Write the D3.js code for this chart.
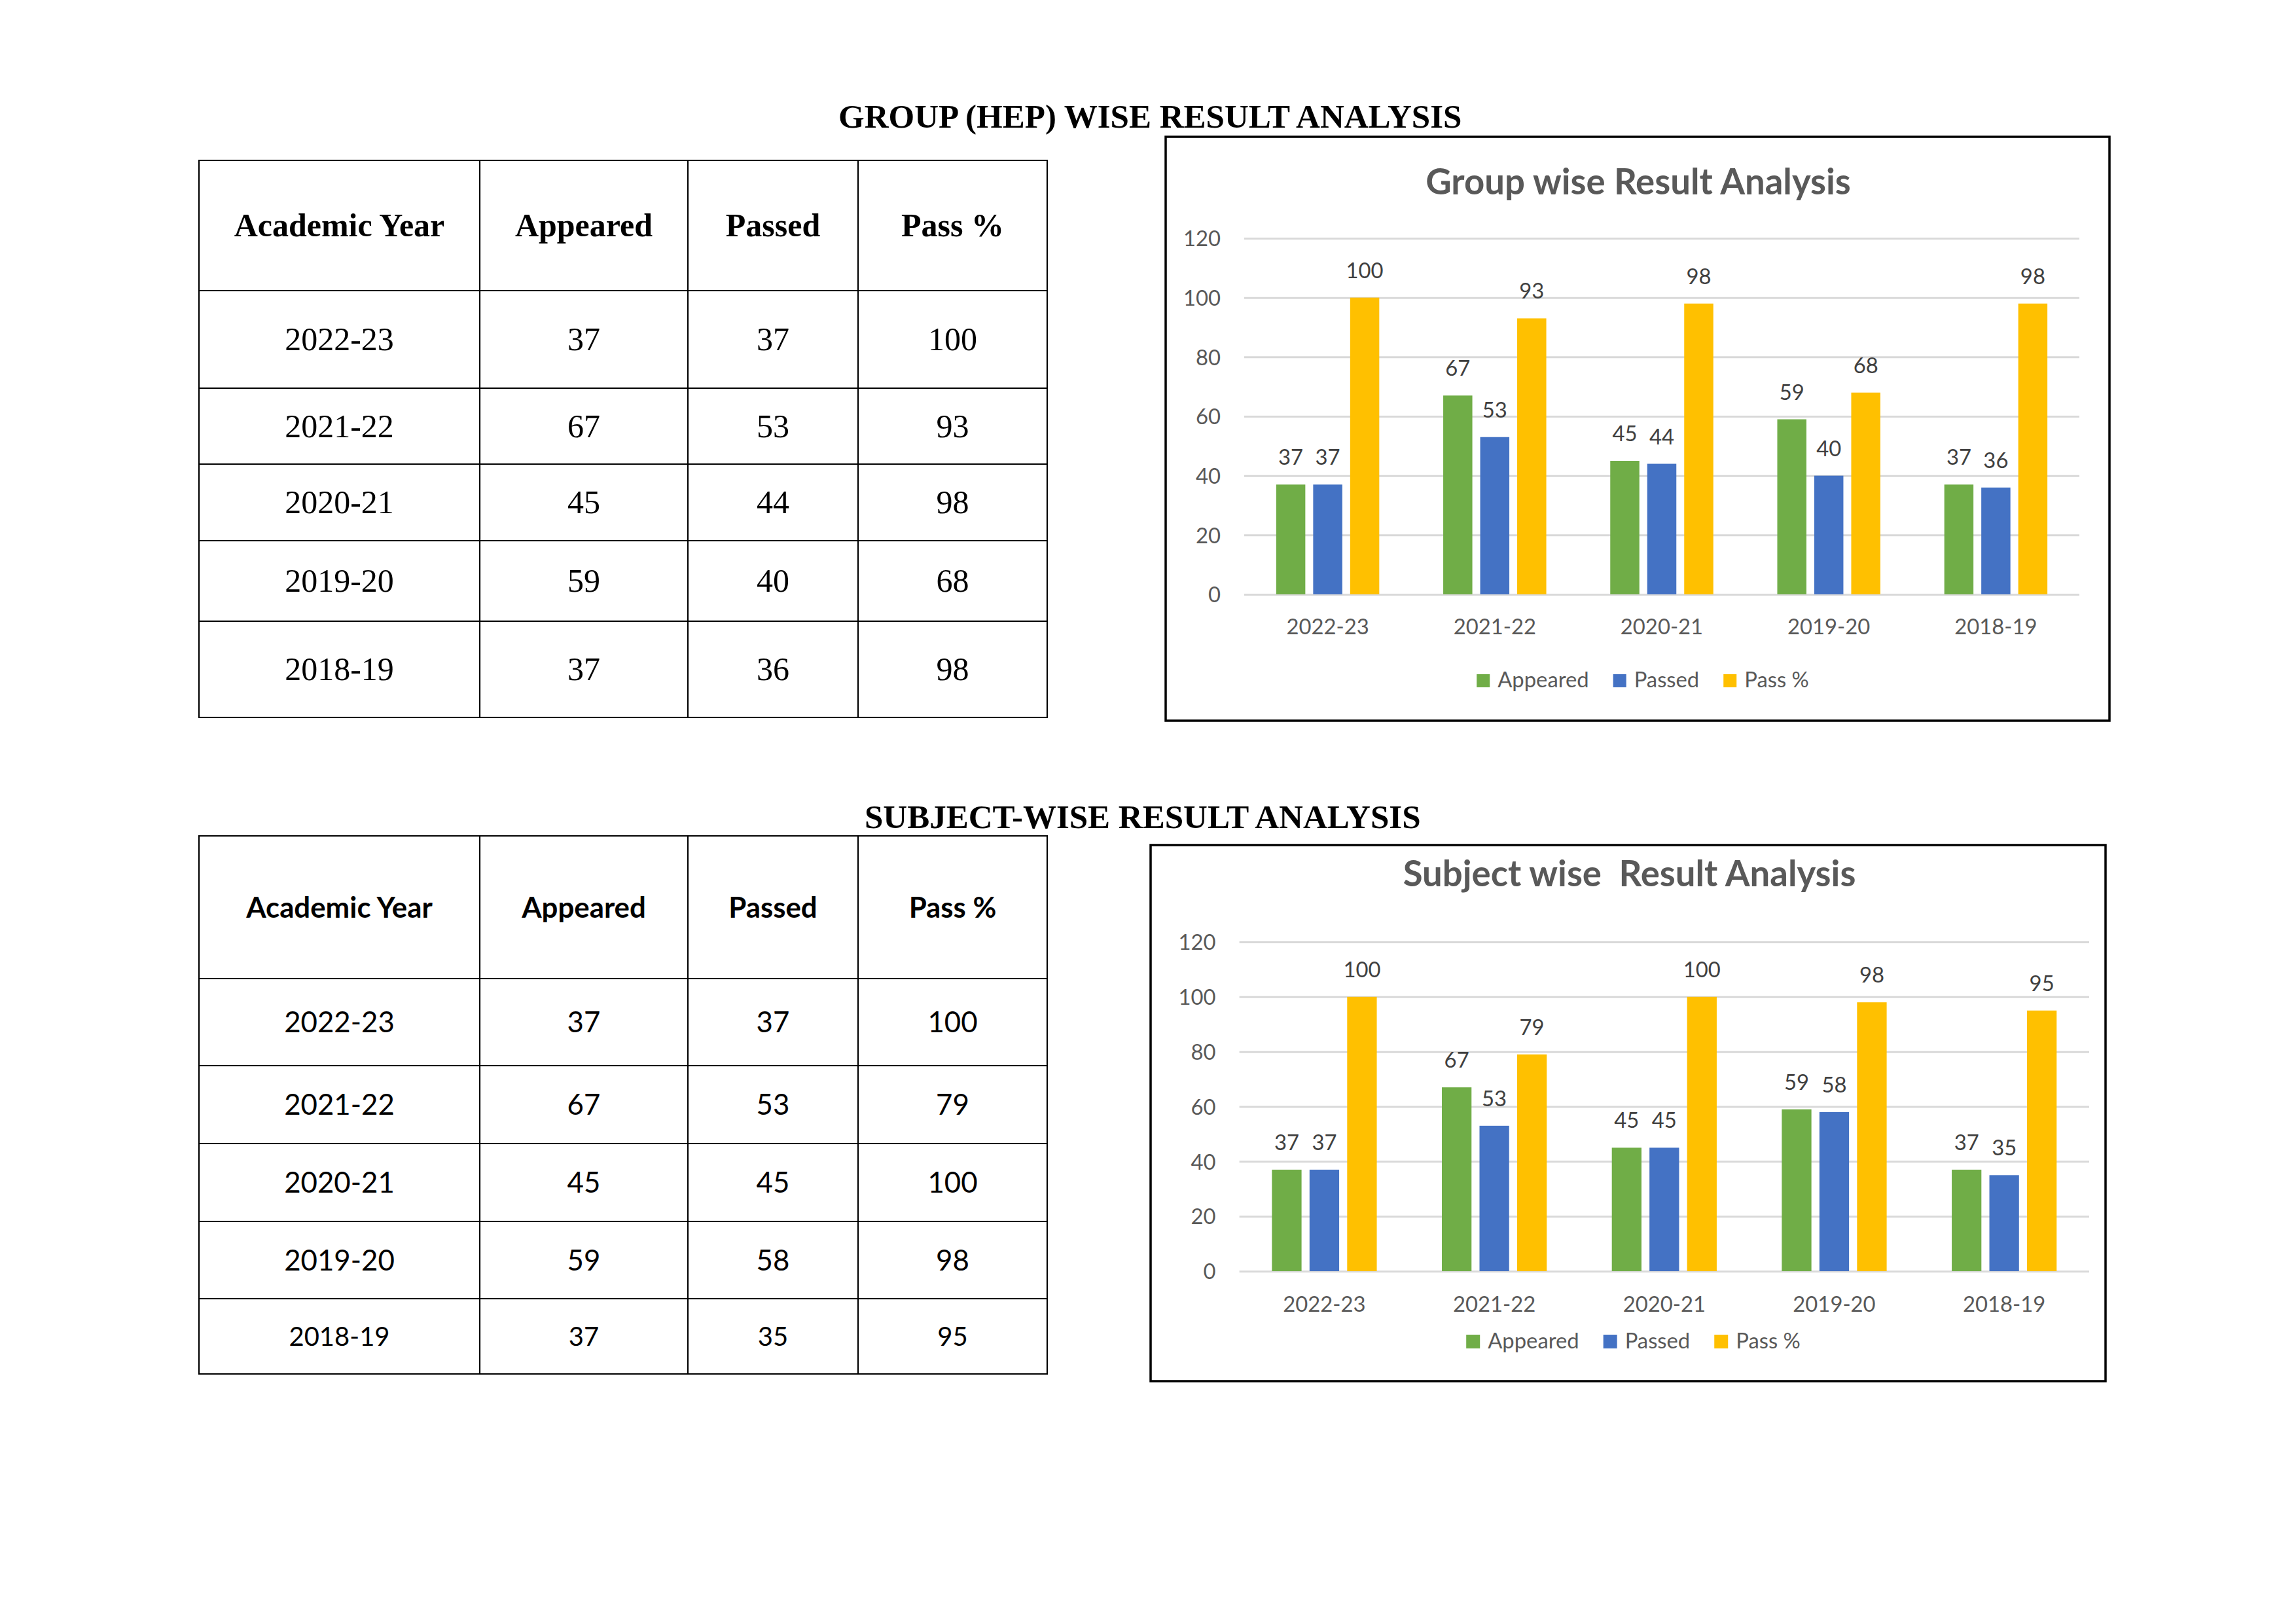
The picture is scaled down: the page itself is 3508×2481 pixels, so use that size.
<!DOCTYPE html>
<html><head><meta charset="utf-8">
<script src="https://cdn.jsdelivr.net/npm/d3@7"></script>
<style>body{margin:0;background:#fff}svg{display:block}</style>
</head><body>
<script>
// ---------- data ----------
const years = ["2022-23","2021-22","2020-21","2019-20","2018-19"];
const seriesNames = ["Appeared","Passed","Pass %"];
const seriesColors = ["#70AD47","#4472C4","#FFC000"];
const groupAppeared = [37,67,45,59,37];
const groupPassed   = [37,53,44,40,36];
const groupPassPct  = [100,93,98,68,98];
const subjectAppeared = [37,67,45,59,37];
const subjectPassed   = [37,53,45,58,35];
const subjectPassPct  = [100,79,100,98,95];
const yTicks = [0,20,40,60,80,100,120];
const tableHeaders = ["Academic Year","Appeared","Passed","Pass %"];
const sectionTitles = ["GROUP (HEP) WISE RESULT ANALYSIS","SUBJECT-WISE RESULT ANALYSIS"];
const chartTitles = ["Group wise Result Analysis","Subject wise  Result Analysis"];

// ---------- page ----------
const W = 3508, H = 2481;
const svg = d3.select("body").append("svg").attr("width", W).attr("height", H);
svg.append("rect").attr("width", W).attr("height", H).attr("fill", "#fff");

// section titles
svg.append("text").attr("x", 1281).attr("y", 195)
  .attr("font-family", "Liberation Serif").attr("font-weight", "bold").attr("font-size", 51)
  .attr("fill", "#000").text(sectionTitles[0]);
svg.append("text").attr("x", 1321).attr("y", 1265)
  .attr("font-family", "Liberation Serif").attr("font-weight", "bold").attr("font-size", 51)
  .attr("fill", "#000").text(sectionTitles[1]);

// ---------- tables ----------
function drawTable(o) {
  const g = svg.append("g");
  const xs = o.cols, ys = o.rows;
  const rowsData = years.map((yr, i) => [yr, o.a[i], o.p[i], o.pct[i]]);
  tableHeaders.forEach((h, c) => {
    const cy = (ys[0] + ys[1]) / 2;
    g.append("text").attr("x", (xs[c] + xs[c+1]) / 2).attr("y", cy + o.capHalf * o.headSize)
      .attr("text-anchor", "middle").attr("font-family", o.font).attr("font-weight", "bold")
      .attr("font-size", o.headSize).attr("fill", "#000").text(h);
  });
  rowsData.forEach((r, ri) => {
    const cy = (ys[ri+1] + ys[ri+2]) / 2;
    const fs = o.bodySizes[ri];
    r.forEach((v, c) => {
      g.append("text").attr("x", (xs[c] + xs[c+1]) / 2).attr("y", cy + o.capHalf * fs)
        .attr("text-anchor", "middle").attr("font-family", o.font)
        .attr("font-size", fs).attr("fill", "#000").text(v);
    });
  });
  ys.forEach(y => g.append("line").attr("x1", xs[0]).attr("x2", xs[xs.length-1]).attr("y1", y).attr("y2", y)
    .attr("stroke", "#000").attr("stroke-width", 2.2));
  xs.forEach(x => g.append("line").attr("x1", x).attr("x2", x).attr("y1", ys[0]-1.1).attr("y2", ys[ys.length-1]+1.1)
    .attr("stroke", "#000").attr("stroke-width", 2.2));
}

drawTable({
  cols: [304, 733, 1051, 1311, 1600],
  rows: [245, 444, 593, 709, 826, 949, 1096],
  font: "Liberation Serif", headSize: 50, bodySizes: [50,50,50,50,50], capHalf: 0.33,
  a: groupAppeared, p: groupPassed, pct: groupPassPct
});
drawTable({
  cols: [304, 733, 1051, 1311, 1600],
  rows: [1277, 1495, 1628, 1747, 1866, 1984, 2099],
  font: "Lato", headSize: 43.8, bodySizes: [43.8,43.8,43.8,43.8,40], capHalf: 0.36,
  a: subjectAppeared, p: subjectPassed, pct: subjectPassPct
});

// ---------- charts ----------
const FS = 32.8;
function drawChart(o) {
  const g = svg.append("g");
  const [bx0, by0, bx1, by1] = o.box;
  g.append("rect").attr("x", bx0).attr("y", by0).attr("width", bx1 - bx0).attr("height", by1 - by0)
    .attr("fill", "#fff").attr("stroke", "#000").attr("stroke-width", 3.5);
  const bcx = (bx0 + bx1) / 2;

  g.append("text").attr("x", bcx + o.titleDx).attr("y", o.titleY).attr("text-anchor", "middle")
    .attr("font-family", "Lato").attr("font-weight", "bold").attr("font-size", 54.5)
    .attr("fill", "#595959").style("white-space", "pre").text(o.title);

  const x = d3.scaleBand().domain(years).range([o.px0, o.px1]).padding(0);
  const x1 = d3.scaleBand().domain(seriesNames).range([0, x.bandwidth()])
    .paddingInner(0.2124).paddingOuter(0.865);
  const y = d3.scaleLinear().domain([0, 120]).range([o.py0, o.py1]);

  const ax = g.append("g").attr("transform", `translate(${o.px0},0)`)
    .call(d3.axisLeft(y).tickValues(yTicks).tickSize(-(o.px1 - o.px0)).tickPadding(36));
  ax.select(".domain").remove();
  ax.selectAll(".tick line").attr("stroke", "#D9D9D9").attr("stroke-width", 3);
  ax.selectAll(".tick text").attr("fill", "#595959").attr("font-family", "Lato")
    .attr("font-size", FS).attr("dy", "0.36em");

  const rows = years.map((yr, i) => ({ year: yr, vals: [o.a[i], o.p[i], o.pct[i]] }));
  const grp = g.selectAll("g.cat").data(rows).join("g").attr("class", "cat")
    .attr("transform", d => `translate(${x(d.year)},0)`);
  grp.selectAll("rect").data(d => d.vals.map((v, k) => ({ k, v })))
    .join("rect")
    .attr("x", d => x1(seriesNames[d.k])).attr("width", x1.bandwidth())
    .attr("y", d => y(d.v)).attr("height", d => y(0) - y(d.v))
    .attr("fill", d => seriesColors[d.k]);
  grp.selectAll("text").data(d => d.vals.map((v, k) => ({ k, v })))
    .join("text")
    .attr("x", d => x1(seriesNames[d.k]) + x1.bandwidth() / 2)
    .attr("y", d => y(d.v) - 30)
    .attr("text-anchor", "middle").attr("font-family", "Lato").attr("font-size", FS)
    .attr("fill", "#404040").text(d => d.v);

  g.selectAll("text.cat").data(years).join("text").attr("class", "cat")
    .attr("x", d => x(d) + x.bandwidth() / 2).attr("y", o.catY)
    .attr("text-anchor", "middle").attr("font-family", "Lato").attr("font-size", FS)
    .attr("fill", "#595959").text(d => d);

  // legend
  const lg = g.append("g");
  const items = seriesNames.map((n, k) => {
    const t = lg.append("text").attr("y", o.legendY).attr("font-family", "Lato")
      .attr("font-size", FS).attr("fill", "#595959").text(n);
    return { t, w: t.node().getComputedTextLength(), k };
  });
  const sq = o.sq, gapT = 12, gapI = 37;
  const total = items.reduce((s, it) => s + sq + gapT + it.w, 0) + gapI * (items.length - 1);
  let cx = bcx + 8 - total / 2;
  items.forEach(it => {
    lg.append("rect").attr("x", cx).attr("y", o.legendY - sq).attr("width", sq).attr("height", sq)
      .attr("fill", seriesColors[it.k]);
    it.t.attr("x", cx + sq + gapT);
    cx += sq + gapT + it.w + gapI;
  });
}

drawChart({
  box: [1781, 209, 3223, 1101], px0: 1901, px1: 3177, py0: 908, py1: 364,
  titleY: 297, titleDx: 1, catY: 969, legendY: 1050, sq: 20, title: chartTitles[0],
  a: groupAppeared, p: groupPassed, pct: groupPassPct
});
drawChart({
  box: [1758, 1291, 3217, 2110], px0: 1893.6, px1: 3192, py0: 1942, py1: 1439,
  titleY: 1354, titleDx: 2, catY: 2004, legendY: 2060, sq: 21, title: chartTitles[1],
  a: subjectAppeared, p: subjectPassed, pct: subjectPassPct
});
</script>
</body></html>
